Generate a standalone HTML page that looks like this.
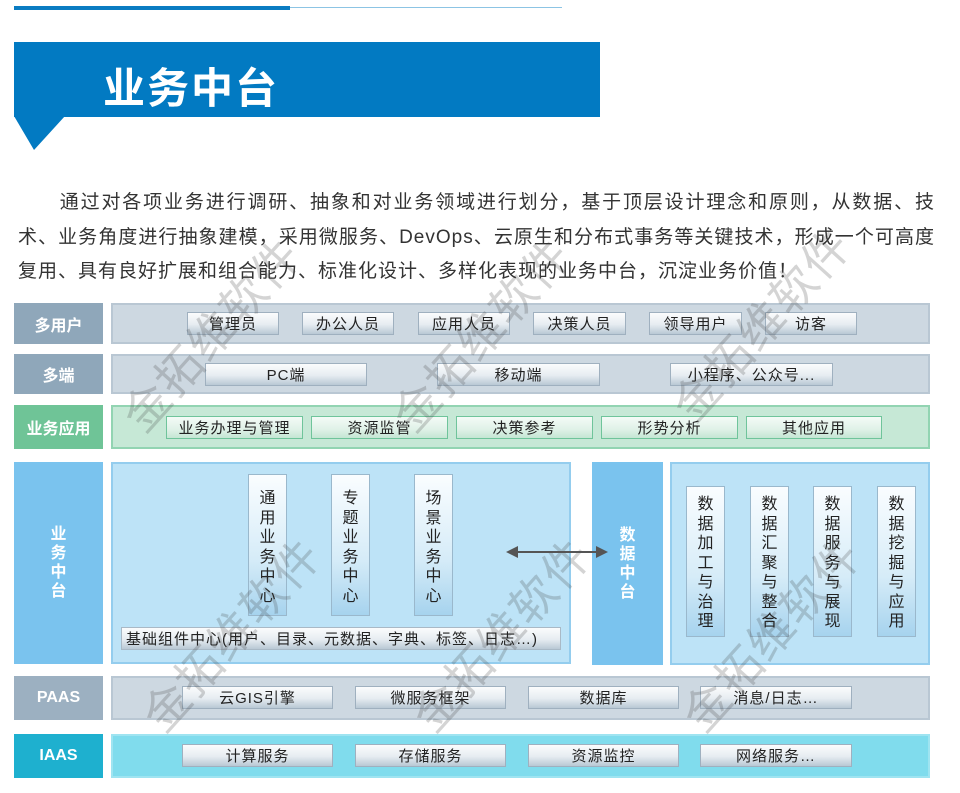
<!DOCTYPE html>
<html><head><meta charset="utf-8"><style>
*{margin:0;padding:0;box-sizing:border-box}
body{width:960px;height:793px;background:#fff;position:relative;overflow:hidden;font-family:"Liberation Sans","Noto Sans CJK SC",sans-serif}
.a{position:absolute}
.lbl{position:absolute;color:#fff;font-weight:bold;font-size:16px;display:flex;align-items:center;justify-content:center;text-align:center}
.pan{position:absolute;border:2px solid}
.btn{position:absolute;height:23px;border:1px solid #9fb0bf;background:linear-gradient(#fbfcfd,#e6ecf1 55%,#b9c8d4);font-size:15px;color:#222;display:flex;align-items:center;justify-content:center;letter-spacing:1px}
.g{border-color:#6fc49b;background:linear-gradient(#f4fbf7,#dff1e7 60%,#c4e6d3)}
.v{position:absolute;border:1px solid #9ab8cc;background:linear-gradient(#fafdff,#d6ecf8 60%,#a6d3ee);font-size:16px;color:#222;line-height:19.5px;text-align:center;padding-top:14px}
.wm{position:absolute;font-size:46px;color:rgba(60,60,60,0.22);transform:rotate(-48deg);white-space:nowrap;letter-spacing:2px}
.p{position:absolute;left:18px;font-size:19px;color:#333;letter-spacing:1px;white-space:nowrap}
.j{width:917px;text-align:justify;text-align-last:justify;white-space:normal;height:26px;overflow:hidden}
</style></head><body>
<div class="a" style="left:14px;top:6px;width:276px;height:4px;background:#0a7cc2"></div>
<div class="a" style="left:290px;top:7px;width:272px;height:1px;background:#8cc4e4"></div>
<div class="a" style="left:14px;top:42px;width:586px;height:75px;background:#027ac2"></div>
<svg class="a" style="left:14px;top:116px" width="52" height="36"><polygon points="0,0 51,0 20,34" fill="#027ac2"/></svg>
<div class="a" style="left:103px;top:55px;font-size:42px;font-weight:bold;color:#fff;letter-spacing:2px">业务中台</div>

<div class="p j" style="top:187px">　　通过对各项业务进行调研、抽象和对业务领域进行划分，基于顶层设计理念和原则，从数据、技</div>
<div class="p j" style="top:222px">术、业务角度进行抽象建模，采用微服务、DevOps、云原生和分布式事务等关键技术，形成一个可高度</div>
<div class="p" style="top:256px">复用、具有良好扩展和组合能力、标准化设计、多样化表现的业务中台，沉淀业务价值！</div>

<div class="lbl" style="left:14px;top:303px;width:89px;height:41px;background:#8fa7ba">多用户</div>
<div class="pan" style="left:111px;top:303px;width:819px;height:41px;background:#cdd8e1;border-color:#b9c7d3"></div>
<div class="btn" style="left:187px;top:312px;width:92px">管理员</div>
<div class="btn" style="left:302px;top:312px;width:92px">办公人员</div>
<div class="btn" style="left:418px;top:312px;width:92px">应用人员</div>
<div class="btn" style="left:533px;top:312px;width:93px">决策人员</div>
<div class="btn" style="left:649px;top:312px;width:93px">领导用户</div>
<div class="btn" style="left:765px;top:312px;width:92px">访客</div>

<div class="lbl" style="left:14px;top:354px;width:89px;height:40px;background:#8fa7ba">多端</div>
<div class="pan" style="left:111px;top:354px;width:819px;height:40px;background:#cdd8e1;border-color:#b9c7d3"></div>
<div class="btn" style="left:205px;top:363px;width:162px">PC端</div>
<div class="btn" style="left:437px;top:363px;width:163px">移动端</div>
<div class="btn" style="left:670px;top:363px;width:163px">小程序、公众号...</div>

<div class="lbl" style="left:14px;top:405px;width:89px;height:44px;background:#6fc497">业务应用</div>
<div class="pan" style="left:111px;top:405px;width:819px;height:44px;background:#c6e8d6;border-color:#92d4b2"></div>
<div class="btn g" style="left:166px;top:416px;width:137px">业务办理与管理</div>
<div class="btn g" style="left:311px;top:416px;width:137px">资源监管</div>
<div class="btn g" style="left:456px;top:416px;width:137px">决策参考</div>
<div class="btn g" style="left:601px;top:416px;width:137px">形势分析</div>
<div class="btn g" style="left:746px;top:416px;width:136px">其他应用</div>

<div class="lbl" style="left:14px;top:462px;width:89px;height:202px;background:#7ac3ee;line-height:19px">业<br>务<br>中<br>台</div>
<div class="pan" style="left:111px;top:462px;width:460px;height:202px;background:#bde3f7;border-color:#94cdee"></div>
<div class="v" style="left:248px;top:474px;width:39px;height:142px">通<br>用<br>业<br>务<br>中<br>心</div>
<div class="v" style="left:331px;top:474px;width:39px;height:142px">专<br>题<br>业<br>务<br>中<br>心</div>
<div class="v" style="left:414px;top:474px;width:39px;height:142px">场<br>景<br>业<br>务<br>中<br>心</div>
<div class="btn" style="left:121px;top:627px;width:440px;justify-content:flex-start;padding-left:4px;border-color:#a9b9c6">基础组件中心(用户、目录、元数据、字典、标签、日志…)</div>
<div class="lbl" style="left:592px;top:462px;width:71px;height:203px;background:#7ac3ee;line-height:19px">数<br>据<br>中<br>台</div>
<svg class="a" style="left:504px;top:542px;z-index:5" width="106" height="20"><line x1="10" y1="10" x2="96" y2="10" stroke="#555" stroke-width="2"/><polygon points="2,10 14,4 14,16" fill="#555"/><polygon points="104,10 92,4 92,16" fill="#555"/></svg>
<div class="pan" style="left:670px;top:462px;width:260px;height:203px;background:#bde3f7;border-color:#94cdee"></div>
<div class="v" style="left:686px;top:486px;width:39px;height:151px;padding-top:8px">数<br>据<br>加<br>工<br>与<br>治<br>理</div>
<div class="v" style="left:750px;top:486px;width:39px;height:151px;padding-top:8px">数<br>据<br>汇<br>聚<br>与<br>整<br>合</div>
<div class="v" style="left:813px;top:486px;width:39px;height:151px;padding-top:8px">数<br>据<br>服<br>务<br>与<br>展<br>现</div>
<div class="v" style="left:877px;top:486px;width:39px;height:151px;padding-top:8px">数<br>据<br>挖<br>掘<br>与<br>应<br>用</div>

<div class="lbl" style="left:14px;top:676px;width:89px;height:44px;background:#9cb0c1">PAAS</div>
<div class="pan" style="left:111px;top:676px;width:819px;height:44px;background:#cdd8e1;border-color:#b9c7d3"></div>
<div class="btn" style="left:182px;top:686px;width:151px">云GIS引擎</div>
<div class="btn" style="left:355px;top:686px;width:151px">微服务框架</div>
<div class="btn" style="left:528px;top:686px;width:151px">数据库</div>
<div class="btn" style="left:700px;top:686px;width:152px">消息/日志…</div>

<div class="lbl" style="left:14px;top:734px;width:89px;height:44px;background:#1eb0cf">IAAS</div>
<div class="pan" style="left:111px;top:734px;width:819px;height:44px;background:#80dced;border-color:#9fe4f1"></div>
<div class="btn" style="left:182px;top:744px;width:151px">计算服务</div>
<div class="btn" style="left:355px;top:744px;width:151px">存储服务</div>
<div class="btn" style="left:528px;top:744px;width:151px">资源监控</div>
<div class="btn" style="left:700px;top:744px;width:152px">网络服务…</div>

<div class="wm" style="left:90px;top:300px">金拓维软件</div>
<div class="wm" style="left:360px;top:300px">金拓维软件</div>
<div class="wm" style="left:640px;top:290px">金拓维软件</div>
<div class="wm" style="left:110px;top:600px">金拓维软件</div>
<div class="wm" style="left:380px;top:600px">金拓维软件</div>
<div class="wm" style="left:650px;top:600px">金拓维软件</div>
</body></html>
